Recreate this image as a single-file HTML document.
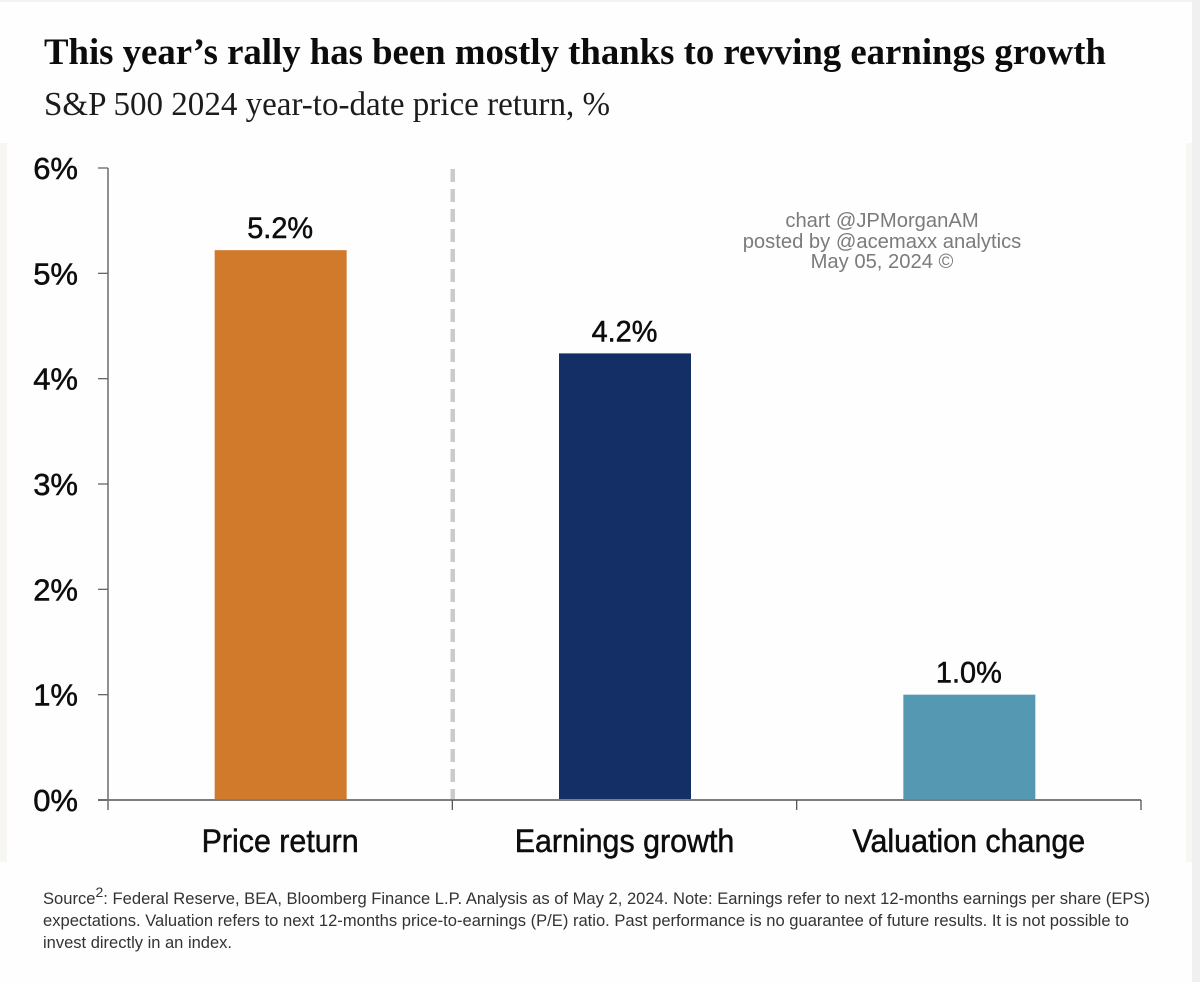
<!DOCTYPE html>
<html lang="en">
<head>
<meta charset="utf-8">
<title>S&amp;P 500 2024 year-to-date price return</title>
<style>
html,body{margin:0;padding:0;background:#fff;}
body{width:1200px;height:982px;overflow:hidden;}
svg{display:block;}
.sans{font-family:"Liberation Sans",Arial,sans-serif;}
.serif{font-family:"Liberation Serif","Times New Roman",serif;}
</style>
</head>
<body>
<svg id="chart" width="1200" height="982" viewBox="0 0 1200 982" xmlns="http://www.w3.org/2000/svg">
  <rect x="0" y="0" width="1200" height="982" fill="#fefefe"/>
  <rect x="0" y="0" width="1200" height="2" fill="#f2f2f2"/>
  <rect x="0" y="143" width="7" height="719" fill="#f7f6f2"/>
  <rect x="1186" y="143" width="6" height="719" fill="#f8f7f2"/>
  <rect x="1192" y="0" width="8" height="982" fill="#f0f0f0"/>
  <text class="serif" x="44" y="64" font-size="37.5" font-weight="700" fill="#0c0c0c" textLength="1062" lengthAdjust="spacingAndGlyphs">This year’s rally has been mostly thanks to revving earnings growth</text>
  <text class="serif" x="44" y="115" font-size="33.5" fill="#1c1c1c" textLength="566" lengthAdjust="spacingAndGlyphs">S&amp;P 500 2024 year-to-date price return, %</text>
  <g id="plot"></g>
  <g class="sans" font-size="20.2" fill="#7b7b7b" text-anchor="middle">
    <text x="882" y="227">chart @JPMorganAM</text>
    <text x="882" y="248">posted by @acemaxx analytics</text>
    <text x="882" y="268">May 05, 2024 ©</text>
  </g>
  <g class="sans" font-size="16.5" fill="#333">
    <text x="43" y="904" textLength="1107" lengthAdjust="spacingAndGlyphs">Source<tspan font-size="14" dy="-7">2</tspan><tspan dy="7">: Federal Reserve, BEA, Bloomberg Finance L.P. Analysis as of May 2, 2024. Note: Earnings refer to next 12-months earnings per share (EPS)</tspan></text>
    <text x="43" y="926" textLength="1086" lengthAdjust="spacingAndGlyphs">expectations. Valuation refers to next 12-months price-to-earnings (P/E) ratio. Past performance is no guarantee of future results. It is not possible to</text>
    <text x="43" y="948" textLength="189" lengthAdjust="spacingAndGlyphs">invest directly in an index.</text>
  </g>
</svg>
<script>
const categories = ['Price return', 'Earnings growth', 'Valuation change'];
const seriesValues = [5.22, 4.24, 1.0];
const valueLabels = ['5.2%', '4.2%', '1.0%'];
const barColors = ['#d27a2c', '#142f66', '#5598b1'];
const yTicks = [0, 1, 2, 3, 4, 5, 6];
const yTickLabels = ['0%', '1%', '2%', '3%', '4%', '5%', '6%'];

const NS = 'http://www.w3.org/2000/svg';
const plot = document.getElementById('plot');
const axisLeft = 108, axisRight = 1141, axisBottom = 800, axisTop = 168, yMax = 6;
const bandWidth = (axisRight - axisLeft) / categories.length;
const barWidth = 132;
const axisColor = '#7d7d7d';
const x = function (i) { return axisLeft + bandWidth * (i + 0.5); };
const y = function (v) { return axisBottom - (v / yMax) * (axisBottom - axisTop); };

function make(tag, attrs, text) {
  const el = document.createElementNS(NS, tag);
  for (const k in attrs) el.setAttribute(k, attrs[k]);
  if (text !== undefined) el.textContent = text;
  plot.appendChild(el);
  return el;
}
function label(cx, baseline, size, sx, str) {
  return make('text', {
    transform: 'translate(' + cx + ',' + baseline + ') scale(' + sx + ',1)',
    'text-anchor': 'middle',
    'font-size': size,
    fill: '#0d0d0d',
    stroke: '#0d0d0d',
    'stroke-width': 0.5,
    'class': 'sans'
  }, str);
}

seriesValues.forEach(function (v, i) {
  const bar = make('rect', { x: x(i) - barWidth / 2 + 0.5, y: y(v), width: barWidth, height: axisBottom - y(v), fill: barColors[i] });
  
  
  const val = label(x(i), y(v) - 12, 29.5, 0.98, valueLabels[i]);
  
  
  const cat = label(x(i), 852, 32, 0.95, categories[i]);
  
  
});

const divider = make('line', { x1: axisLeft + bandWidth + 0.4, x2: axisLeft + bandWidth + 0.4, y1: 169, y2: axisBottom, stroke: '#cbcbcb', 'stroke-width': 4.5, 'stroke-dasharray': '13 7' });



const yAxis = make('line', { x1: axisLeft, x2: axisLeft, y1: axisTop, y2: axisBottom + 10, stroke: '#555', 'stroke-width': 1.3 });



const xAxis = make('line', { x1: 98, x2: axisRight, y1: axisBottom, y2: axisBottom, stroke: axisColor, 'stroke-width': 2 });



yTicks.forEach(function (t, i) {
  const tick = make('line', { x1: 98, x2: axisLeft, y1: y(t), y2: y(t), stroke: '#666', 'stroke-width': 1.3 });
  
  
  const lab = make('text', {
    transform: 'translate(78,' + (y(t) + 11) + ')',
    'text-anchor': 'end',
    'font-size': 31,
    fill: '#0d0d0d',
    stroke: '#0d0d0d',
    'stroke-width': 0.5,
    'class': 'sans'
  }, yTickLabels[i]);
  
  
});

for (let i = 1; i <= categories.length; i++) {
  const tx = axisLeft + bandWidth * i;
  const tick = make('line', { x1: tx, x2: tx, y1: axisBottom, y2: axisBottom + 10, stroke: '#555', 'stroke-width': 1.3 });
  
  
}
</script>
</body>
</html>
